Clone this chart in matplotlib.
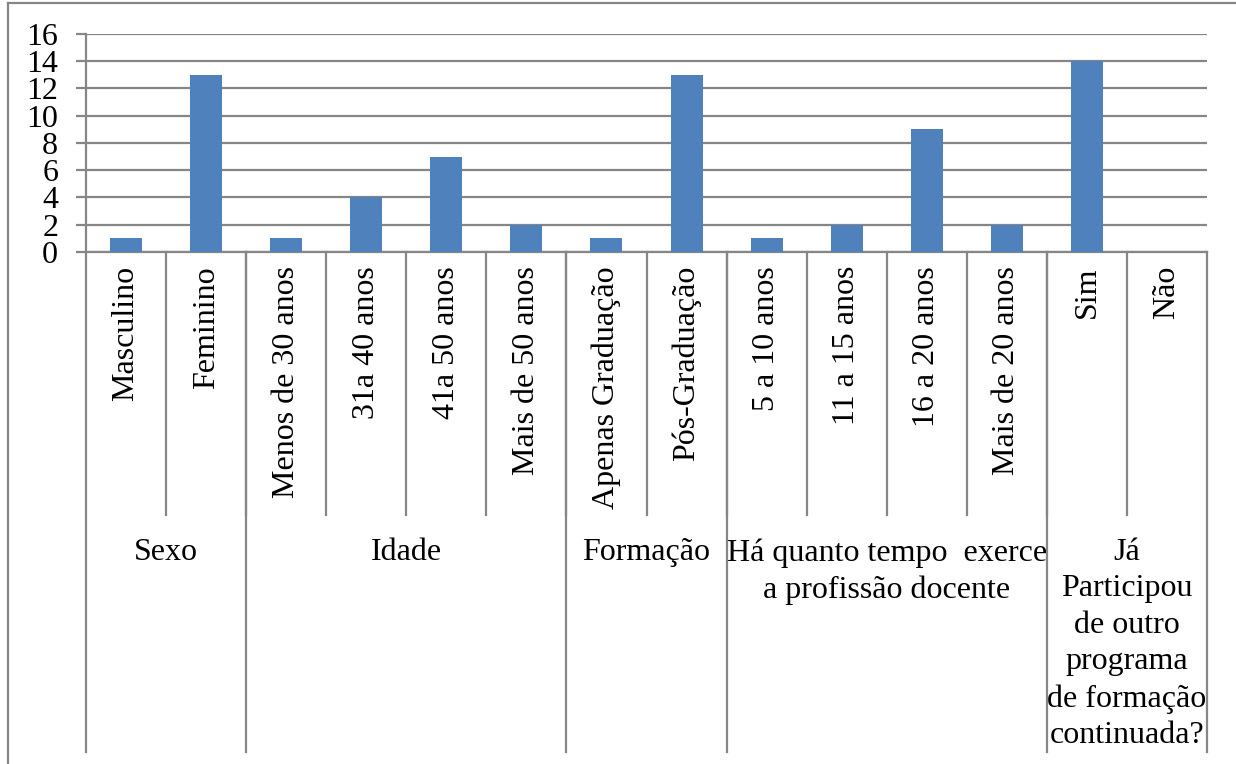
import matplotlib.pyplot as plt
import matplotlib.transforms as mtransforms
from matplotlib import font_manager
from matplotlib.lines import Line2D
import numpy as np

installed = {f.name for f in font_manager.fontManager.ttflist}
serif = [n for n in ['Liberation Serif', 'Times New Roman', 'DejaVu Serif'] if n in installed]
plt.rcParams['font.family'] = serif + ['DejaVu Sans']

W, H = 1236, 764
GRID = '#868686'
BAR = '#4F81BD'

categories = ['Masculino', 'Feminino',
              'Menos de 30 anos', '31a 40 anos', '41a 50 anos', 'Mais de 50 anos',
              'Apenas Graduação', 'Pós-Graduação',
              '5 a 10 anos', '11 a 15 anos', '16 a 20 anos', 'Mais de 20 anos',
              'Sim', 'Não']
values = [1, 13, 1, 4, 7, 2, 1, 13, 1, 2, 9, 2, 14, 0]

groups = ['Sexo', 'Idade', 'Formação',
          'Há quanto tempo  exerce\na profissão docente',
          'Já\nParticipou\nde outro\nprograma\nde formação\ncontinuada?']
group_sizes = [2, 4, 2, 4, 2]

fig = plt.figure(figsize=(W / 100, H / 100), dpi=100)

# plot area in pixel terms: x 86..1207, y 34..252
left, right, top, bottom = 86, 1207, 34, 252
ax = fig.add_axes([left / W, 1 - bottom / H, (right - left) / W, (bottom - top) / H])

x = np.arange(len(categories)) + 0.5
ax.bar(x, values, width=0.4, color=BAR, zorder=3)

ax.set_xlim(0, len(categories))
ax.set_ylim(0, 16)
ax.set_yticks(range(0, 17, 2))
ax.yaxis.grid(True, color=GRID, linewidth=1.6)
ax.set_axisbelow(True)
ax.tick_params(axis='y', length=7, width=1.6, color=GRID, pad=13, labelsize=23)
ax.set_xticks([])
for side in ['top', 'right']:
    ax.spines[side].set_visible(False)
for side in ['left', 'bottom']:
    ax.spines[side].set_color(GRID)
    ax.spines[side].set_linewidth(1.6)

# x in data units, y in figure pixels measured from the top
trans = mtransforms.blended_transform_factory(ax.transData, fig.transFigure)
def fy(py):
    return 1 - py / H

# category labels and the short separators between them
for xi, name in zip(x, categories):
    ax.text(xi, fy(266), name, rotation=90, ha='center', va='top',
            fontsize=23, transform=trans, clip_on=False)
for b in range(1, len(categories)):
    ax.add_line(Line2D([b, b], [fy(bottom), fy(515)], color=GRID, lw=1.6,
                       transform=trans, clip_on=False))

# group labels and the long separators between groups
edges = np.concatenate([[0], np.cumsum(group_sizes)])
for e in edges:
    ax.add_line(Line2D([e, e], [fy(bottom), fy(752)], color=GRID, lw=1.6,
                       transform=trans, clip_on=False))
for g, a, b in zip(groups, edges[:-1], edges[1:]):
    ax.text((a + b) / 2, fy(538), g, ha='center', va='top', fontsize=23,
            linespacing=1.34, transform=trans, clip_on=False)

# chart frame
fig.add_artist(Line2D([8 / W, 1], [fy(3), fy(3)], color=GRID, lw=1.6))
fig.add_artist(Line2D([8 / W, 8 / W], [fy(3), 0], color=GRID, lw=1.6))

fig.savefig('out.png', dpi=100)
